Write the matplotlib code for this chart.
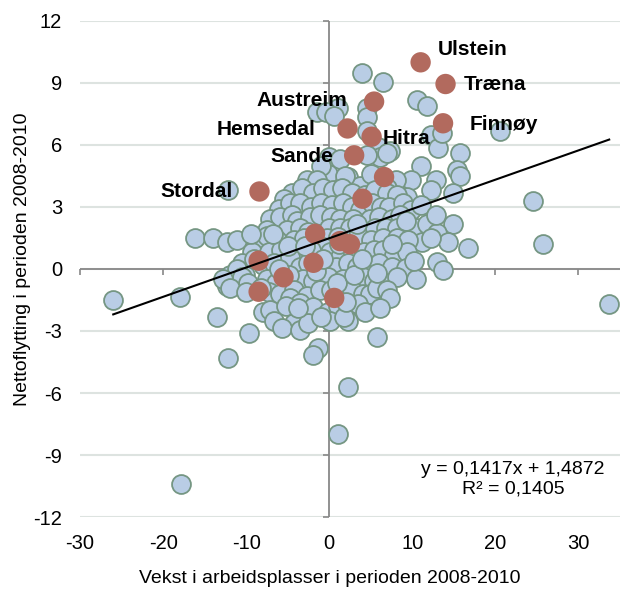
import numpy as np
import matplotlib
matplotlib.use("Agg")
import matplotlib.pyplot as plt
from matplotlib.markers import TICKDOWN, TICKLEFT

plt.rcParams['font.family'] = ['Liberation Sans', 'DejaVu Sans']
plt.rcParams['axes.unicode_minus'] = False

# kommuner (blue points)
blue_x = [
    -26.0, -18.0, -17.8, 33.7, 24.5, 25.7, 20.6, 1.0, 2.3, -12.2, -13.5, -9.6, -1.4, -2.0, 5.8,
    -12.2, -16.1, -14.0, -12.3, -11.1,
    4.0, 6.5, 10.6, 11.8, -1.5, 1.1, -0.4, 0.6, 4.6, 4.6, 4.6, 5.9, 7.3, 12.2, 13.1, 13.6, 15.8,
    11.0, 15.4, 15.8, 12.8, 9.8, 12.2, 9.4, 14.9, 6.1, 7.0, 4.6, 0.0, 1.3, 0.1, 2.2, 3.7, 8.0,
    -2.7, -0.2, 1.9, 5.0, 6.9, -1.0, -1.5,
    -4.5, -3.3, -2.0, -0.8, 0.5, 1.5, 2.8, 4.3, 5.5, 7.0, 8.2, -5.5,
    -6.0, -4.7, -3.5, -2.2, -1.0, 0.3, 1.6, 2.8, 3.7, 5.2, 6.2, 7.2, 8.9, 9.8, 11.0,
    -7.1, -5.9, -4.5, -3.9, -2.3, -1.1, 0.2, 1.3, 2.9, 4.9, 6.0, 7.5, 8.5,
    -7.5, -5.1, -3.5, -2.5, 0.0, 1.3, 2.5, 3.8, 5.5, 6.8, 8.2, 10.6, 11.8, 14.9, 9.3,
    -8.7, -6.3, -4.3, -3.0, -0.3, 1.0, 3.5, 5.0, 6.5, 8.2, 13.0, 11.2, 14.3, 12.2, -7.5, 9.5,
    -9.3, -7.3, -5.8, -4.0, -0.7, 0.1, 1.3, 2.8, 4.2, 5.4, 6.5, 7.8, 9.4, 16.7, -2.2,
    -10.5, -8.0, -6.7, -4.7, -3.5, -2.6, -0.5, 0.8, 2.2, 3.4, 4.8, 6.0, 7.5, 9.2, 13.0, 13.7,
    -11.9, -10.1, -11.1,
    -12.3, -12.8, -10.5, -9.8, -7.5, -6.4, -3.1, -2.0, -0.2, 1.7, 3.0, 4.1, 5.4, 6.7, 8.2, 10.4,
    -4.8, -11.9,
    -7.2, -5.9, -4.3, -4.7, -2.7, -1.1, 0.2, 1.8, 2.7, 4.1, 4.9, 5.8, 7.0, 7.3, -3.5, -10.0,
    -8.0, -7.1, -5.2, -3.3, -1.9, -0.2, 1.0, 2.3, 0.1, 3.5, 4.3, 6.1, -6.7, -4.3,
    -5.7, -3.5, -2.5, -1.0, 1.8,
    -9.0, -6.0, -1.6, 0.9, 3.0, 5.8, -5.0, -2.9, 1.2, 4.0, -8.2, -3.8, 10.2, 12.8, -0.8,
    2.0, -6.8, -9.4, 7.6, 3.3,
]
blue_y = [
    -1.5, -1.35, -10.4, -1.7, 3.3, 1.2, 6.7, -8.0, -5.7, -4.3, -2.3, -3.1, -3.8, -4.15, -3.3,
    3.8, 1.5, 1.5, 1.3, 1.4,
    9.5, 9.05, 8.2, 7.9, 7.6, 7.8, 7.6, 7.4, 7.8, 7.35, 6.7, 5.9, 5.7, 6.5, 5.85, 6.6, 5.6,
    5.0, 4.8, 4.5, 4.3, 4.3, 3.8, 3.5, 3.7, 5.4, 5.6, 5.5, 5.4, 5.3, 4.45, 4.45, 4.0, 4.3,
    4.3, 4.6, 4.5, 4.6, 3.9, 5.0, 4.3,
    3.7, 3.9, 3.7, 3.9, 3.8, 3.9, 3.7, 3.6, 3.8, 3.7, 3.6, 3.4,
    2.9, 3.2, 3.2, 3.0, 3.2, 3.1, 3.2, 3.0, 2.85, 3.2, 3.0, 3.0, 3.2, 2.85, 3.1,
    2.4, 2.5, 2.6, 2.3, 2.5, 2.6, 2.5, 2.4, 2.4, 2.4, 2.5, 2.4, 2.6,
    1.9, 1.9, 2.0, 1.8, 2.0, 2.0, 2.0, 1.9, 2.0, 2.0, 2.0, 2.0, 2.2, 2.2, 2.3,
    1.15, 1.4, 1.4, 1.5, 1.5, 1.55, 1.6, 1.4, 1.5, 1.5, 1.75, 1.3, 1.3, 1.5, 1.6, 1.4,
    0.8, 0.8, 0.9, 0.8, 1.05, 0.8, 0.6, 0.9, 0.8, 0.9, 0.9, 0.7, 0.8, 1.0, 0.9,
    0.3, 0.2, 0.3, 0.6, 0.1, 0.3, 0.2, 0.1, 0.3, 0.1, 0.2, 0.3, 0.1, 0.05, 0.35, -0.05,
    -0.3, -0.3, 0.0,
    -0.8, -0.5, -0.4, -0.7, -0.5, -0.7, -0.5, -0.6, -0.4, -0.5, -0.7, -0.4, -0.6, -0.7, -0.4, -0.5,
    -0.3, -0.9,
    -1.1, -1.2, -1.0, -1.4, -1.3, -1.0, -1.0, -1.3, -1.0, -1.2, -1.2, -0.9, -1.0, -1.4, -1.65, -1.1,
    -2.1, -2.0, -1.8, -2.4, -1.85, -2.1, -1.8, -2.5, -2.5, -1.7, -2.1, -1.9, -2.5, -2.6,
    -2.85, -2.95, -2.6, -2.3, -2.3,
    0.5, 0.0, -0.1, -0.7, -0.3, -0.2, 1.1, 1.1, 1.2, 0.5, -0.9, -1.9, 0.4, 2.6, 0.5,
    -1.6, 1.7, 1.7, 1.2, 2.2,
]

# highlighted kommuner (brown points), '' = no label
red_names = ['Ulstein', 'Træna', 'Austreim', 'Finnøy', 'Hemsedal', 'Hitra', 'Sande', '',
             'Stordal', '', '', '', '', '', '', '', '', '']
red_x = [11.0, 14.0, 5.4, 13.7, 2.2, 5.1, 3.0, 6.6, -8.4, 4.0, -1.7, 1.3, 2.5, -8.5, -5.5, -1.9, -8.5, 0.6]
red_y = [10.0, 8.95, 8.1, 7.05, 6.8, 6.4, 5.5, 4.45, 3.75, 3.4, 1.7, 1.35, 1.2, 0.4, -0.4, 0.3, -1.1, -1.4]

# trendline from Excel
slope = 0.1417
intercept = 1.4872
r2 = 0.1405

x_ticks = [-30, -20, -10, 0, 10, 20, 30]
y_ticks = [-12, -9, -6, -3, 0, 3, 6, 9, 12]

# label placement (offset in points, alignment)
label_pos = {
    'Ulstein': (12, 9, 'left'),
    'Træna': (13, 0, 'left'),
    'Finnøy': (19, -1, 'left'),
    'Austreim': (-19, 1, 'right'),
    'Hemsedal': (-23, -1, 'right'),
    'Hitra': (8, -1, 'left'),
    'Sande': (-15, -1, 'right'),
    'Stordal': (-19, 0, 'right'),
}

fig = plt.figure(figsize=(6.32, 5.91), dpi=100)
ax = fig.add_axes([0.1266, 0.1252, 0.8544, 0.8393])

ax.set_xlim(-30, 35)
ax.set_ylim(-12, 12)
ax.set_xticks(x_ticks)
ax.set_yticks(y_ticks)
ax.tick_params(length=0, labelsize=14.5, colors='black')
ax.tick_params(axis='y', pad=13)
ax.tick_params(axis='x', pad=12)
for s in ax.spines.values():
    s.set_visible(False)

# grid + axes crossing at zero
for yv in y_ticks:
    ax.axhline(yv, color='#dde3e0', lw=1.5, zorder=0)
ax.axhline(0, color='#888888', lw=1.3, zorder=1)
ax.axvline(0, color='#888888', lw=1.3, zorder=1)
ax.plot(x_ticks, np.zeros(len(x_ticks)), ls='none', marker=TICKDOWN, ms=4,
        mew=1.2, color='#888888', zorder=1, clip_on=False)
ax.plot(np.zeros(len(y_ticks)), y_ticks, ls='none', marker=TICKLEFT, ms=4,
        mew=1.2, color='#888888', zorder=1, clip_on=False)

ax.scatter(blue_x, blue_y, s=185, facecolor='#b9cde5', edgecolor='#759683',
           linewidth=1.3, zorder=2)
ax.scatter(red_x, red_y, s=215, facecolor='#b26a5e', edgecolor='none', zorder=3)

all_x = np.array(blue_x + red_x)
xl = np.array([all_x.min(), all_x.max()])
ax.plot(xl, slope * xl + intercept, color='black', lw=1.5, zorder=4)

for name, xv, yv in zip(red_names, red_x, red_y):
    if not name:
        continue
    dx, dy, ha = label_pos[name]
    ax.annotate(name, (xv, yv), xytext=(dx, dy), textcoords='offset points',
                ha=ha, va='center', fontsize=15, fontweight='bold', zorder=5)

eq = 'y = ' + f'{slope:.4f}'.replace('.', ',') + 'x + ' + f'{intercept:.4f}'.replace('.', ',')
eq += '\nR² = ' + f'{r2:.4f}'.replace('.', ',')
ax.text(0.972, 0.076, eq, transform=ax.transAxes, ha='right', va='center',
        multialignment='center', fontsize=14, linespacing=1.25, zorder=5)

ax.set_xlabel('Vekst i arbeidsplasser i perioden 2008-2010', fontsize=14, va='center')
ax.xaxis.set_label_coords(0.463, -0.124)
ax.set_ylabel('Nettoflytting i perioden 2008-2010', fontsize=14, va='center')
ax.yaxis.set_label_coords(-0.107, 0.52)

fig.savefig('out.png', dpi=100)
